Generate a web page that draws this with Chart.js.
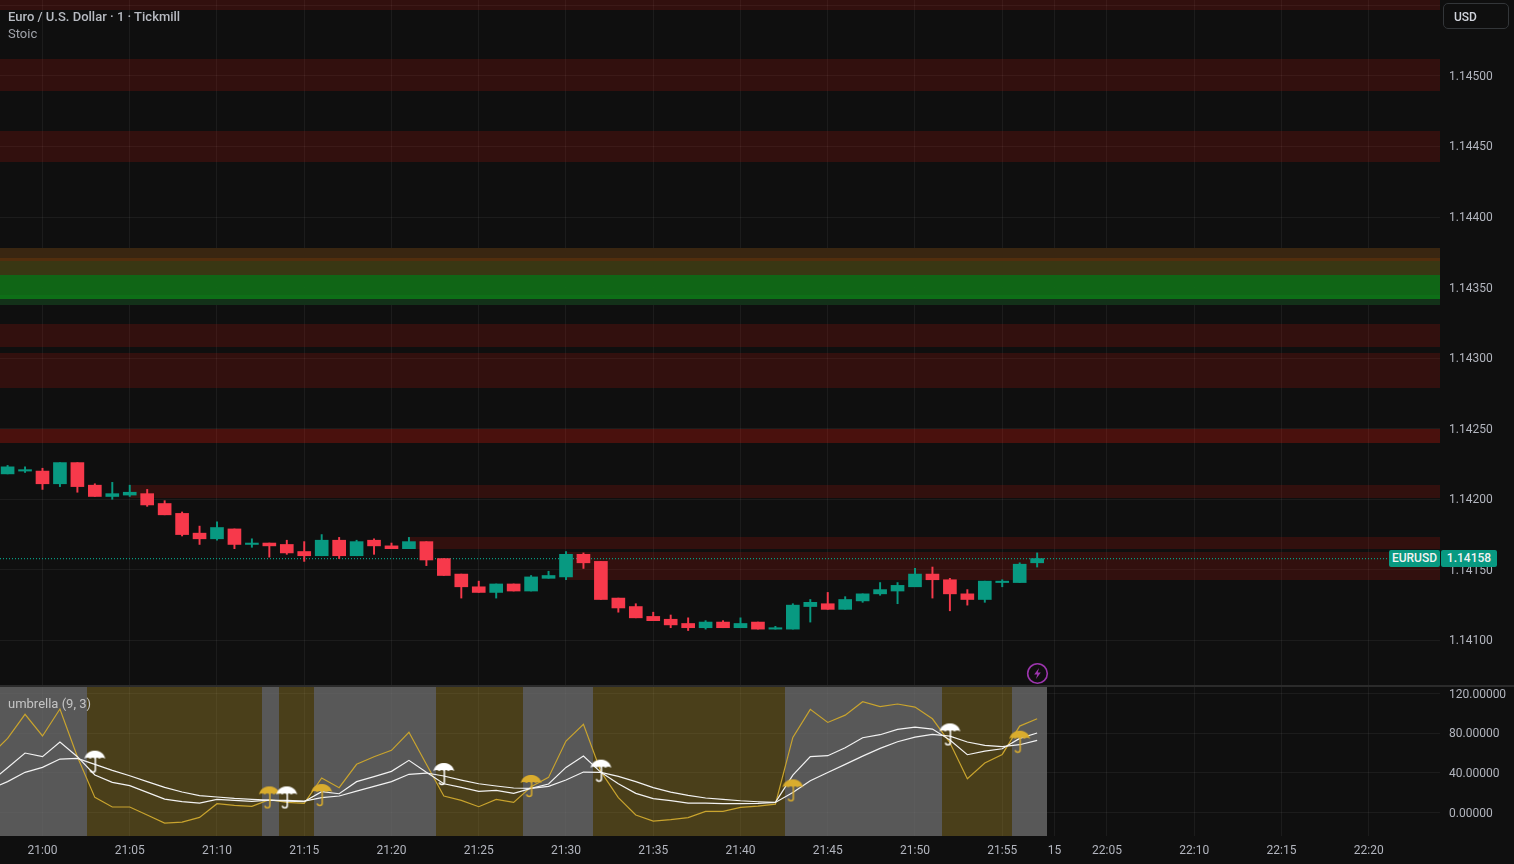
<!DOCTYPE html>
<html>
<head>
  <meta charset="UTF-8">
  <title>EURUSD 1m</title>
  <script src="https://cdn.jsdelivr.net/npm/chart.js"></script>
  <style>
    body, html {
      margin: 0;
      padding: 0;
      background: #0f0f0f;
      overflow: hidden;
      font-family: Roboto, sans-serif;
    }
    #pricePane { position: absolute; left: 0; top: 0; }
    #oscPane { position: absolute; left: 0; top: 686px; }
    #divider { position: absolute; left: 0; top: 685px; width: 1514px; height: 1.5px; background: #2b2b2b; }
    .legend { position: absolute; left: 8px; font-size: 13px; line-height: 16px; white-space: nowrap; }
    #title { top: 9px; color: #b8bbc2; font-weight: 500; }
    #study { top: 26px; color: #a0a3aa; }
    #oscName { top: 696px; color: #c4c4c4; }
    #usd {
      position: absolute; left: 1443px; top: 3px; width: 54px; height: 24px; padding-left: 10px;
      border: 1.5px solid #333639; border-radius: 5px;
      color: #d1d4dc; font-size: 12px; font-weight: 500; line-height: 26px;
    }
    .badge {
      position: absolute; top: 550px; height: 17px; line-height: 17px; background: #089981;
      color: #f2f2f2; font-size: 12px; font-weight: 500; border-radius: 2px; text-align: center;
    }
    #badgeName { left: 1389px; width: 51px; }
    #badgePrice { left: 1441px; width: 56px; }
    #bolt { position: absolute; left: 1026px; top: 662px; }
  </style>
</head>
<body>
  <canvas id="pricePane" width="1514" height="686"></canvas>
  <canvas id="oscPane" width="1514" height="178"></canvas>
  <div id="divider"></div>

  <div class="legend" id="title">Euro / U.S. Dollar · 1 · Tickmill</div>
  <div class="legend" id="study">Stoic</div>
  <div class="legend" id="oscName">umbrella (9, 3)</div>
  <div id="usd">USD</div>
  <div class="badge" id="badgeName">EURUSD</div>
  <div class="badge" id="badgePrice">1.14158</div>
  <svg id="bolt" width="23" height="23" viewBox="0 0 23 23">
    <circle cx="11.5" cy="11.5" r="9.8" fill="none" stroke="#9c35ad" stroke-width="1.6"/>
    <path d="M13 6 L8.2 12.4 H11.2 L10 17 L14.8 10.6 H11.8 Z" fill="#9c35ad"/>
  </svg>

  <script>
    // one entry per minute, x position on the chart = index in this list
    const times = [
      '20:57','20:58','20:59','21:00','21:01','21:02','21:03','21:04','21:05','21:06','21:07','21:08','21:09',
      '21:10','21:11','21:12','21:13','21:14','21:15','21:16','21:17','21:18','21:19','21:20','21:21','21:22',
      '21:23','21:24','21:25','21:26','21:27','21:28','21:29','21:30','21:31','21:32','21:33','21:34','21:35',
      '21:36','21:37','21:38','21:39','21:40','21:41','21:42','21:43','21:44','21:45','21:46','21:47','21:48',
      '21:49','21:50','21:51','21:52','21:53','21:54','21:55','21:56','21:57'
    ];

    const opens = [null,
      1.14218,1.14220,1.14220,1.14211,1.14226,1.14210,1.14202,1.14203,1.14204,1.14197,
      1.14190,1.14176,1.14172,1.14179,1.14168,1.14169,1.14168,1.14163,1.14160,1.14171,
      1.14160,1.14171,1.14167,1.14165,1.14170,1.14158,1.14147,1.14138,1.14134,1.14140,
      1.14135,1.14144,1.14145,1.14161,1.14156,1.14130,1.14124,1.14117,1.14115,1.14112,
      1.14109,1.14113,1.14109,1.14113,1.14108,1.14108,1.14124,1.14126,1.14122,1.14128,
      1.14133,1.14135,1.14138,1.14147,1.14143,1.14133,1.14129,1.14141,1.14141,1.14155];
    const highs = [null,
      1.14224,1.14223,1.14222,1.14226,1.14226,1.14211,1.14212,1.14210,1.14207,1.14199,
      1.14191,1.14181,1.14184,1.14179,1.14172,1.14169,1.14171,1.14170,1.14175,1.14173,
      1.14171,1.14172,1.14169,1.14173,1.14170,1.14158,1.14147,1.14142,1.14140,1.14140,
      1.14146,1.14149,1.14163,1.14162,1.14156,1.14130,1.14126,1.14120,1.14118,1.14116,
      1.14114,1.14114,1.14116,1.14113,1.14110,1.14126,1.14129,1.14134,1.14131,1.14133,
      1.14141,1.14141,1.14151,1.14152,1.14144,1.14136,1.14142,1.14143,1.14155,1.14162];
    const lows = [null,
      1.14218,1.14219,1.14207,1.14209,1.14205,1.14202,1.14200,1.14202,1.14195,1.14189,
      1.14174,1.14168,1.14171,1.14165,1.14166,1.14159,1.14161,1.14156,1.14160,1.14158,
      1.14160,1.14161,1.14165,1.14165,1.14153,1.14146,1.14130,1.14134,1.14130,1.14135,
      1.14135,1.14144,1.14143,1.14151,1.14129,1.14120,1.14116,1.14114,1.14109,1.14107,
      1.14108,1.14109,1.14109,1.14108,1.14108,1.14108,1.14113,1.14122,1.14122,1.14127,
      1.14132,1.14126,1.14138,1.14130,1.14121,1.14125,1.14127,1.14138,1.14141,1.14152];
    const closes = [null,
      1.14223,1.14221,1.14211,1.14226,1.14209,1.14202,1.14204,1.14205,1.14196,1.14189,
      1.14175,1.14172,1.14180,1.14168,1.14169,1.14167,1.14162,1.14160,1.14171,1.14160,
      1.14170,1.14167,1.14165,1.14170,1.14157,1.14146,1.14138,1.14134,1.14140,1.14135,
      1.14145,1.14146,1.14161,1.14155,1.14129,1.14123,1.14116,1.14114,1.14111,1.14109,
      1.14113,1.14109,1.14112,1.14108,1.14109,1.14125,1.14127,1.14122,1.14129,1.14133,
      1.14136,1.14139,1.14147,1.14143,1.14133,1.14129,1.14142,1.14142,1.14154,1.14158];
    const lastPrice = 1.14158;

    // stochastic raw line and the two smoothed ones
    const stochRaw = [57.4,74.9,99.2,77.3,104.6,56.4,15.3,5.6,5.6,-2.5,-10.6,-9.6,-4.9,8.9,7.2,6.2,13,10.3,9.3,34.9,25.1,48.7,
      56.4,62.8,81,48.7,16.7,12.3,5.9,13.3,10.3,26.1,35.5,72.2,89.1,41.3,15,-2.5,-8.6,-7.2,-5.2,1.2,1.2,
      5.2,6.5,8.5,75.9,104.2,91,98.4,111.9,106.9,109.6,106.5,94.7,70.5,34.1,50,58.7,87.3,94.7];
    const stochFast = [30.8,45.3,60.1,56.4,71.2,56.4,37.9,30.5,27.1,20.4,13.6,11,9.6,13.3,12.3,11.3,12.6,11.6,11,21.1,19,31.2,
      36.2,41.6,52.7,40.6,29.1,25.4,21.4,22.4,19.4,24.4,28.8,45.6,57.1,40.6,29.1,19.4,14,12,9.6,9.6,9,
      8.9,9.2,10.2,37.8,56.4,57.4,65.4,75.5,78.6,84,86.3,84.3,73.2,58.4,62.1,64.4,74.9,80.3];
    const stochSlow = [23.8,31.2,40.6,45.6,54,54.7,48.7,42.6,37.2,31.2,25.4,20.7,17,15.7,14.3,13.3,12.6,12.3,11.6,15,16.7,21.7,
      26.4,31.2,38.6,39.9,36.9,32.8,29.1,26.8,24.8,24.4,26.4,32.8,40.9,40.6,36.5,31.2,25.1,20.7,17.4,14.7,13.3,
      11.9,10.9,10.2,20.3,32.1,40.5,48.6,57,64.8,71.5,76.2,78.9,77.2,71.2,67.8,66.5,68.5,72.9];

    // umbrella signals
    const whiteSignalTimes = ['21:03','21:14','21:23','21:32','21:52'];
    const whiteSignalLevels = [51.4,15.3,38.9,42.3,78.9];
    const goldSignalTimes = ['21:13','21:16','21:28','21:43','21:56'];
    const goldSignalLevels = [15.3,17.7,26.8,22.4,71.5];

    // background regimes under the oscillator
    const regimeStarts = ['20:57','21:03','21:13','21:14','21:16','21:23','21:28','21:32','21:43','21:52','21:56'];
    const regimeKinds = ['up','down','up','down','up','down','up','down','up','down','up'];
    const regimeLast = '21:57';

    // price zones
    const zoneTops =    [1.14570,1.14512,1.14461,1.14324,1.14304,1.14250,1.14210,1.14173,1.14163];
    const zoneBottoms = [1.14547,1.14489,1.14439,1.14308,1.14279,1.14240,1.14201,1.14165,1.14143];
    const zoneStarts =  ['20:57','20:57','20:57','20:57','20:57','20:57','21:05','21:21','21:30'];
    const zoneKinds =   ['weak','weak','weak','weak','weak','strong','weak','weak','weak'];
    const stackTops =    [1.14378,1.14371,1.14369,1.14359,1.14345,1.14342];
    const stackBottoms = [1.14371,1.14369,1.14359,1.14345,1.14342,1.14338];
    const stackKinds =   ['brown','orange','olive','green','greenHi','greenLo'];

    const priceTicks = [1.141,1.1415,1.142,1.1425,1.143,1.1435,1.144,1.1445,1.145,1.1455];
    const oscTicks = [0,40,80,120];
    const timeTickSlots = [3,8,13,18,23,28,33,38,43,48,53,58,61,64,69,74,79];
    const timeTickLabels = ['21:00','21:05','21:10','21:15','21:20','21:25','21:30','21:35','21:40','21:45','21:50','21:55','15','22:05','22:10','22:15','22:20'];

    const BG_GRID = 'rgba(242,242,242,0.06)';
    const UP = '#089981';
    const DOWN = '#f7394b';
    const GOLD = '#c9a42e';
    const WHITE = '#f2f2f2';
    const zoneColors = {
      weak: 'rgba(235,25,15,0.16)',
      strong: 'rgba(235,25,10,0.27)',
      brown: 'rgba(60,40,18,0.95)',
      orange: 'rgba(86,48,15,0.95)',
      olive: 'rgba(60,58,20,0.95)',
      green: 'rgba(17,106,23,0.96)',
      greenHi: 'rgba(15,116,24,0.96)',
      greenLo: 'rgba(20,52,26,0.95)'
    };
    const regimeColors = { up: 'rgba(128,128,128,0.65)', down: 'rgba(200,165,50,0.32)' };

    const X_MIN = 0.565;
    const X_MAX = 83.086;

    const candleSlots = times.map((t, i) => i).filter(i => opens[i] !== null);

    // zones are drawn right after the grid so the grid shines through them
    const zonesPlugin = {
      id: 'zones',
      beforeDatasetsDraw(chart) {
        const { ctx, chartArea: area, scales: { x, y } } = chart;
        const band = (top, bottom, start, color) => {
          const left = Math.max(area.left, Math.round(x.getPixelForValue(times.indexOf(start))));
          const yTop = Math.round(y.getPixelForValue(top));
          const yBottom = Math.round(y.getPixelForValue(bottom));
          ctx.fillStyle = color;
          ctx.fillRect(left, yTop, area.right - left, yBottom - yTop);
        };
        ctx.save();
        ctx.beginPath();
        ctx.rect(area.left, area.top, area.width, area.height);
        ctx.clip();
        zoneTops.forEach((top, i) => band(top, zoneBottoms[i], zoneStarts[i], zoneColors[zoneKinds[i]]));
        stackTops.forEach((top, i) => band(top, stackBottoms[i], times[0], zoneColors[stackKinds[i]]));
        ctx.restore();
      }
    };

    const regimesPlugin = {
      id: 'regimes',
      beforeDatasetsDraw(chart) {
        const { ctx, chartArea: area, scales: { x } } = chart;
        ctx.save();
        regimeStarts.forEach((start, i) => {
          const from = Math.max(area.left, Math.round(x.getPixelForValue(times.indexOf(start) - 0.5)) + 1);
          const lastSlot = i + 1 < regimeStarts.length ? times.indexOf(regimeStarts[i + 1]) : times.indexOf(regimeLast) + 1;
          const to = Math.round(x.getPixelForValue(lastSlot - 0.5)) + 1;
          ctx.fillStyle = regimeColors[regimeKinds[i]];
          ctx.fillRect(from, area.top, to - from, area.height);
        });
        ctx.restore();
      }
    };

    function makeUmbrella(color) {
      const c = document.createElement('canvas');
      c.width = 23;
      c.height = 24;
      const g = c.getContext('2d');
      g.fillStyle = color;
      g.strokeStyle = color;
      g.lineWidth = 1.5;
      g.beginPath();
      g.moveTo(1, 9);
      g.bezierCurveTo(3, 2, 8, 1, 11.5, 1);
      g.bezierCurveTo(15, 1, 20, 2, 22, 9);
      g.quadraticCurveTo(19, 7, 16, 9);
      g.quadraticCurveTo(13.5, 7, 11.5, 9);
      g.quadraticCurveTo(9.5, 7, 7, 9);
      g.quadraticCurveTo(4, 7, 1, 9);
      g.fill();
      g.beginPath();
      g.moveTo(12, 7);
      g.lineTo(12, 20);
      g.arc(9.5, 20, 2.5, 0, Math.PI * 0.95);
      g.stroke();
      return c;
    }

    const xBase = {
      type: 'linear',
      min: X_MIN,
      max: X_MAX,
      offset: false,
      border: { display: false },
      grid: { color: BG_GRID, offset: false, drawTicks: false },
      afterBuildTicks(axis) { axis.ticks = timeTickSlots.map(v => ({ value: v })); }
    };
    const yBase = {
      position: 'right',
      border: { display: false },
      grid: { color: BG_GRID, drawTicks: false },
      // tick label overhang would otherwise push the plot area in by 16px
      afterFit(axis) {
        axis.width = 74;
        axis.paddingTop = 0;
        axis.paddingBottom = 0;
      }
    };
    const AXIS_FONT = { family: 'Roboto, sans-serif', size: 12 };

    new Chart(document.getElementById('pricePane'), {
      type: 'bar',
      data: {
        datasets: [
          {
            label: 'last',
            type: 'line',
            data: [{ x: X_MIN, y: lastPrice }, { x: X_MAX, y: lastPrice }],
            borderColor: UP,
            borderWidth: 1.2,
            borderDash: [1, 2],
            pointRadius: 0,
            order: 3
          },
          {
            label: 'wick',
            data: candleSlots.map(i => ({ x: i, y: [lows[i], highs[i]] })),
            backgroundColor: candleSlots.map(i => closes[i] >= opens[i] ? UP : DOWN),
            barThickness: 1.3,
            grouped: false,
            order: 2
          },
          {
            label: 'body',
            data: candleSlots.map(i => ({ x: i, y: [opens[i], closes[i]] })),
            backgroundColor: candleSlots.map(i => closes[i] >= opens[i] ? UP : DOWN),
            barThickness: 13,
            grouped: false,
            order: 1
          }
        ]
      },
      options: {
        responsive: false,
        animation: false,
        layout: { padding: 0, autoPadding: false },
        plugins: { legend: { display: false }, tooltip: { enabled: false } },
        scales: {
          x: {
            ...xBase,
            ticks: { display: false, autoSkip: false },
            afterFit(axis) { axis.height = 0; }
          },
          y: {
            ...yBase,
            min: 1.140677,
            max: 1.145538,
            afterBuildTicks(axis) { axis.ticks = priceTicks.map(v => ({ value: v })); },
            ticks: {
              color: '#b2b5be',
              font: AXIS_FONT,
              padding: 9,
              labelOffset: 1,
              autoSkip: false,
              callback: v => v > 1.1452 ? '' : v.toFixed(5)
            }
          }
        }
      },
      plugins: [zonesPlugin]
    });

    const stochLine = (label, values, color, order) => ({
      label,
      type: 'line',
      data: values.map((v, i) => ({ x: i, y: v })),
      borderColor: color,
      borderWidth: 1.2,
      pointRadius: 0,
      tension: 0,
      order
    });
    const signalSet = (label, slots, levels, color) => ({
      label,
      type: 'scatter',
      data: slots.map((t, i) => ({ x: times.indexOf(t), y: levels[i] })),
      pointStyle: makeUmbrella(color),
      pointRadius: 11,
      order: 1
    });

    new Chart(document.getElementById('oscPane'), {
      type: 'line',
      data: {
        datasets: [
          stochLine('raw', stochRaw, GOLD, 4),
          stochLine('fast', stochFast, WHITE, 3),
          stochLine('slow', stochSlow, WHITE, 2),
          signalSet('sell', whiteSignalTimes, whiteSignalLevels, '#ffffff'),
          signalSet('buy', goldSignalTimes, goldSignalLevels, '#d9ac2e')
        ]
      },
      options: {
        responsive: false,
        animation: false,
        layout: { padding: 0, autoPadding: false },
        plugins: { legend: { display: false }, tooltip: { enabled: false } },
        scales: {
          x: {
            ...xBase,
            ticks: {
              color: '#b2b5be',
              font: AXIS_FONT,
              padding: 8,
              autoSkip: false,
              maxRotation: 0,
              callback: v => timeTickLabels[timeTickSlots.indexOf(v)]
            },
            afterFit(axis) { axis.height = 28; }
          },
          y: {
            ...yBase,
            min: -23.7,
            max: 127.8,
            afterBuildTicks(axis) { axis.ticks = oscTicks.map(v => ({ value: v })); },
            ticks: {
              color: '#b2b5be',
              font: AXIS_FONT,
              padding: 9,
              labelOffset: 1,
              autoSkip: false,
              callback: v => v.toFixed(5)
            }
          }
        }
      },
      plugins: [regimesPlugin]
    });
  </script>
</body>
</html>
